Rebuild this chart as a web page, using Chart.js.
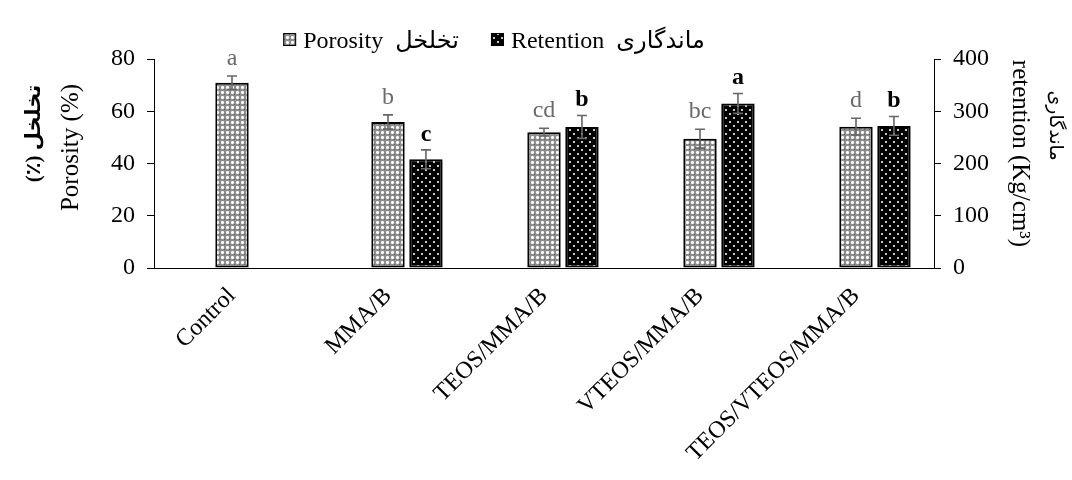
<!DOCTYPE html>
<html><head><meta charset="utf-8">
<script src="https://cdn.jsdelivr.net/npm/chart.js@4.4.1/dist/chart.umd.min.js"></script>
<style>html,body{margin:0;padding:0;background:#fff}#wrap{width:1072px;height:480px}</style>
</head><body><div id="wrap"><canvas id="c" width="1072" height="480"></canvas></div>
<script>
// ---- data ----
const categories = ['Control', 'MMA/B', 'TEOS/MMA/B', 'VTEOS/MMA/B', 'TEOS/VTEOS/MMA/B'];
const porosity = [70.9, 55.9, 52.0, 49.5, 54.1];
const porosityErr = [2.6, 2.7, 1.5, 3.6, 3.2];
const retention = [null, 208, 270, 315, 272];
const retentionErr = [null, 18, 22, 19, 18];
const porosityLetters = ['a', 'b', 'cd', 'bc', 'd'];
const retentionLetters = [null, 'c', 'b', 'a', 'b'];
const leftTicks = [0, 20, 40, 60, 80];
const rightTicks = [0, 100, 200, 300, 400];
const porosityLabel = 'Porosity  تخلخل';
const retentionLabel = 'Retention  ماندگاری';
const leftTitle = 'Porosity (%)';
const leftTitleFa = 'تخلخل (٪)';
const rightTitle = 'retention (Kg/cm³)';
const rightTitleFa = 'ماندگاری';

const FONT = "'Liberation Serif', 'Times New Roman', 'DejaVu Sans', serif";
const canvas = document.getElementById('c');
const ctx0 = canvas.getContext('2d');

function makePattern(w, h, draw) {
  const t = document.createElement('canvas');
  t.width = w; t.height = h;
  const g = t.getContext('2d');
  draw(g);
  return ctx0.createPattern(t, 'repeat');
}
const porosityPattern = makePattern(5, 5, g => {
  g.fillStyle = '#8e8e8e'; g.fillRect(0, 0, 5, 5);
  g.fillStyle = '#ffffff';
  g.fillRect(2, 1, 1, 3); g.fillRect(1, 2, 3, 1);
  g.fillStyle = '#d8d8d8';
  g.fillRect(1, 1, 1, 1); g.fillRect(3, 1, 1, 1); g.fillRect(1, 3, 1, 1); g.fillRect(3, 3, 1, 1);
  g.fillStyle = '#5a5a5a'; g.fillRect(4, 4, 1, 1);
});
const retentionPattern = makePattern(8, 8, g => {
  g.fillStyle = '#000000'; g.fillRect(0, 0, 8, 8);
  g.fillStyle = '#c8c8c8';
  g.fillRect(1, 1, 2, 2); g.fillRect(5, 5, 2, 2);
});

const annot = {
  id: 'annot',
  afterDatasetsDraw(chart) {
    const ctx = chart.ctx;
    const sets = [
      {ds: 1, vals: porosity, errs: porosityErr, letters: porosityLetters, axis: 'y', color: '#6a6a6a', font: '24px ' + FONT, gap: 11},
      {ds: 2, vals: retention, errs: retentionErr, letters: retentionLetters, axis: 'y1', color: '#000', font: 'bold 24px ' + FONT, gap: 9}
    ];
    sets.forEach(s => {
      const meta = chart.getDatasetMeta(s.ds);
      const sc = chart.scales[s.axis];
      s.vals.forEach((v, i) => {
        if (v == null) return;
        const x = meta.data[i].x;
        const yt = sc.getPixelForValue(v + s.errs[i]);
        const yb = sc.getPixelForValue(v - s.errs[i]);
        ctx.save();
        ctx.strokeStyle = '#666';
        ctx.lineWidth = 1.6;
        ctx.beginPath();
        ctx.moveTo(x, yt); ctx.lineTo(x, yb);
        ctx.moveTo(x - 5, yt); ctx.lineTo(x + 5, yt);
        ctx.moveTo(x - 5, yb); ctx.lineTo(x + 5, yb);
        ctx.stroke();
        ctx.fillStyle = s.color;
        ctx.font = s.font;
        ctx.textAlign = 'center';
        ctx.textBaseline = 'alphabetic';
        ctx.fillText(s.letters[i], x, yt - s.gap);
        ctx.restore();
      });
    });
  }
};

const extras = {
  id: 'extras',
  afterDraw(chart) {
    const ctx = chart.ctx;
    const a = chart.chartArea;
    // legend
    ctx.save();
    ctx.font = '24px ' + FONT;
    ctx.textBaseline = 'alphabetic';
    ctx.textAlign = 'left';
    const items = [chart.data.datasets[1], chart.data.datasets[2]];
    const box = 13, gapBox = 7, gapItem = 32;
    const widths = items.map(d => box + gapBox + ctx.measureText(d.label).width);
    const total = widths[0] + gapItem + widths[1];
    let x = (a.left + a.right) / 2 - 50 - total / 2;
    const baseY = a.top - 11;
    items.forEach((d, i) => {
      ctx.fillStyle = d.backgroundColor;
      ctx.fillRect(x, baseY - 15, box, box);
      ctx.strokeStyle = '#000'; ctx.lineWidth = 1;
      ctx.strokeRect(x + 0.5, baseY - 14.5, box - 1, box - 1);
      ctx.fillStyle = '#000';
      ctx.fillText(d.label, x + box + gapBox, baseY);
      x += widths[i] + gapItem;
    });
    ctx.restore();
    // axis titles
    const cy = (a.top + a.bottom) / 2;
    function vtext(t, x, y, rot, font, rtl) {
      ctx.save();
      ctx.translate(x, y);
      ctx.rotate(rot);
      ctx.font = font;
      ctx.direction = rtl ? 'rtl' : 'ltr';
      ctx.textAlign = 'center';
      ctx.textBaseline = 'middle';
      ctx.fillStyle = '#000';
      ctx.fillText(t, 0, 0);
      ctx.restore();
    }
    vtext(leftTitle, a.left - 83, cy - 16, -Math.PI / 2, '25px ' + FONT, false);
    vtext(leftTitleFa, a.left - 119, cy - 30, -Math.PI / 2, 'bold 21px ' + FONT, true);
    vtext(rightTitle, a.right + 86, cy - 10, Math.PI / 2, '25px ' + FONT, false);
    vtext(rightTitleFa, a.right + 121, cy - 38, Math.PI / 2, '19px ' + FONT, true);
  }
};

new Chart(canvas, {
  type: 'bar',
  data: {
    labels: categories,
    datasets: [
      {label: '', data: categories.map(() => null), yAxisID: 'y', backgroundColor: 'rgba(0,0,0,0)'},
      {label: porosityLabel, data: porosity, yAxisID: 'y', backgroundColor: porosityPattern,
       borderColor: '#000', borderWidth: 2, borderSkipped: false},
      {label: retentionLabel, data: retention, yAxisID: 'y1', backgroundColor: retentionPattern,
       borderColor: '#000', borderWidth: 2, borderSkipped: false}
    ]
  },
  options: {
    responsive: false,
    animation: false,
    devicePixelRatio: 1,
    layout: {padding: {top: 59, left: 0, right: 0, bottom: 0}},
    datasets: {bar: {categoryPercentage: 0.73, barPercentage: 0.88}},
    plugins: {legend: {display: false}, tooltip: {enabled: false}},
    scales: {
      x: {
        grid: {display: false},
        border: {display: true, color: '#000', width: 1},
        ticks: {color: '#000', font: {family: FONT, size: 24}, minRotation: 45, maxRotation: 45, padding: 6, autoSkip: false},
        afterFit: s => { s.height = 212; }
      },
      y: {
        position: 'left', min: 0, max: 80,
        afterBuildTicks: s => { s.ticks = leftTicks.map(v => ({value: v})); },
        grid: {display: true, drawOnChartArea: false, drawTicks: true, tickLength: 7, color: '#000'},
        border: {display: true, color: '#000', width: 1},
        ticks: {color: '#000', font: {family: FONT, size: 24}, padding: 12},
        afterFit: s => { s.width = 154; }
      },
      y1: {
        position: 'right', min: 0, max: 400,
        afterBuildTicks: s => { s.ticks = rightTicks.map(v => ({value: v})); },
        grid: {display: true, drawOnChartArea: false, drawTicks: true, tickLength: 7, color: '#000'},
        border: {display: true, color: '#000', width: 1},
        ticks: {color: '#000', font: {family: FONT, size: 24}, padding: 12},
        afterFit: s => { s.width = 138; }
      }
    }
  },
  plugins: [annot, extras]
});
</script>
</body></html>
